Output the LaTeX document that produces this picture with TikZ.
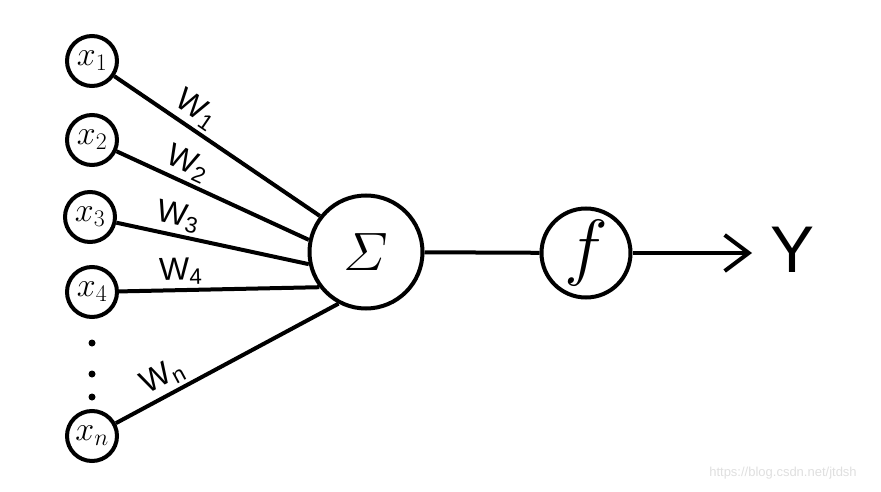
\RequirePackage{fix-cm}
\documentclass[tikz,border=0pt]{standalone}
\usepackage{amsmath}
\usepackage{fontspec}
\setsansfont{Liberation Sans}
\usetikzlibrary{arrows.meta,positioning}

\begin{document}
\begin{tikzpicture}[x=1pt,y=-1pt,line width=4pt,
    input node/.style={circle,draw,minimum size=50pt,inner sep=0pt,font=\fontsize{34}{36}\selectfont},
    sum node/.style={circle,draw,minimum size=113pt,inner sep=0pt,font=\fontsize{54}{54}\selectfont},
    act node/.style={circle,draw,minimum size=89pt,inner sep=0pt,font=\fontsize{74}{74}\selectfont},
    weight/.style={font=\sffamily\fontsize{32}{32}\selectfont,above,sloped,inner sep=3pt}]

    \useasboundingbox (0,0) rectangle (881,492);

    \node[input node] (x1) at (92,61) {$x_1$};
    \node[input node] (x2) at (92,140) {$x_2$};
    \node[input node] (x3) at (90,217) {$x_3$};
    \node[input node] (x4) at (92,292) {$x_4$};
    \node[input node] (xn) at (92,436) {$x_n$};

    % vertical dots between x4 and xn
    \foreach \y in {343,374,397}
        \fill (92,\y) circle (3.5pt);

    \node[sum node] (sum) at (366,252) {$\varSigma$};
    \node[act node] (f) at (586,253) {$f$};
    \node[font=\sffamily\fontsize{66}{66}\selectfont] (y) at (793,250) {Y};
    \coordinate (out) at (752,253);

    \path[every node/.style=weight]
        (x1) edge node[pos=0.35]{W\textsubscript{1}} (sum.142)
        (x2) edge node[pos=0.33]{W\textsubscript{2}} (sum.168)
        (x3) edge node[pos=0.30]{W\textsubscript{3}} (sum.192)
        (x4) edge node[pos=0.31]{W\textsubscript{4}} (sum.217)
        (xn) edge node[pos=0.25]{W\textsubscript{n}} (sum.242)
    ;

    \draw (sum) -- (f);
    \draw[-{Straight Barb[length=24pt,width=36pt]}] (f) -- (out);

    \node[text=gray!25,font=\sffamily\fontsize{13}{13}\selectfont] (mark) at (783,473) {https://blog.csdn.net/jtdsh};
\end{tikzpicture}
\end{document}
